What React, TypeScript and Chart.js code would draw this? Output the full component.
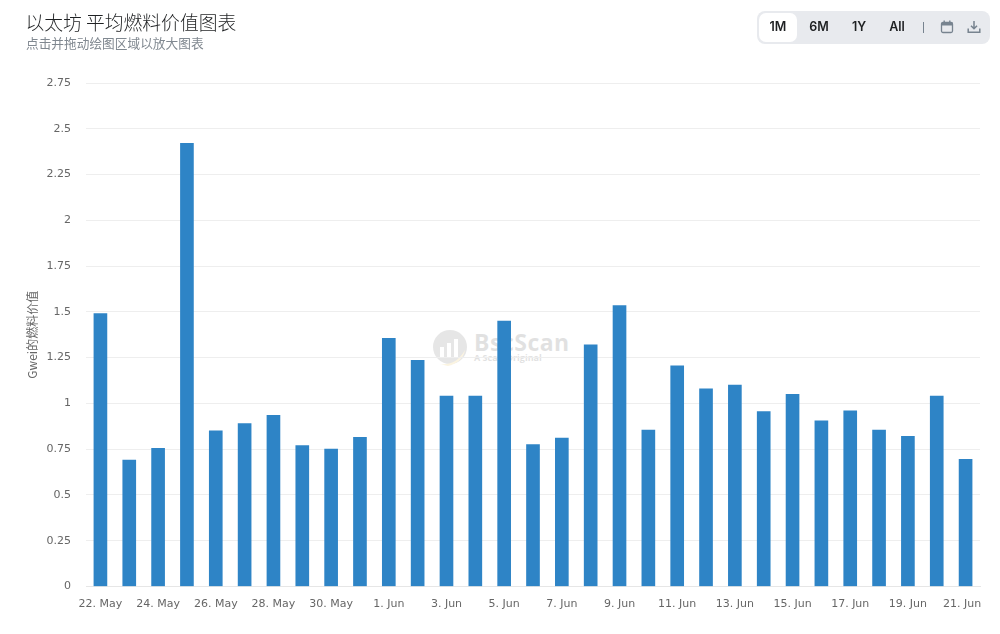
import React, { useEffect, useRef } from "react";
import { Chart, registerables } from "chart.js";

Chart.register(...registerables);

const days = [
  "22. May", "23. May", "24. May", "25. May", "26. May", "27. May", "28. May", "29. May", "30. May", "31. May",
  "1. Jun", "2. Jun", "3. Jun", "4. Jun", "5. Jun", "6. Jun", "7. Jun", "8. Jun", "9. Jun", "10. Jun",
  "11. Jun", "12. Jun", "13. Jun", "14. Jun", "15. Jun", "16. Jun", "17. Jun", "18. Jun", "19. Jun", "20. Jun", "21. Jun",
];
const gasPrice = [
  1.49, 0.69, 0.755, 2.42, 0.85, 0.89, 0.935, 0.77, 0.75, 0.815,
  1.355, 1.235, 1.04, 1.04, 1.45, 0.775, 0.81, 1.32, 1.535, 0.855,
  1.205, 1.08, 1.1, 0.955, 1.05, 0.905, 0.96, 0.855, 0.82, 1.04, 0.695,
];
const rangeButtons = [
  { label: "1M", x: 778 },
  { label: "6M", x: 819 },
  { label: "1Y", x: 859 },
  { label: "All", x: 897 },
];

const CJK = '"Noto Sans CJK SC", "Noto Sans", sans-serif';
const TICK_FONT = '"DejaVu Sans", sans-serif';

const Watermark = () => (
  <div style={{ position: "absolute", left: 432, top: 330, width: 140, height: 40, opacity: 0.14 }}>
    <svg width="36" height="36" viewBox="0 0 36 36" style={{ position: "absolute", left: 0, top: 0 }}>
      <circle cx="18" cy="17" r="17" fill="#555" />
      <rect x="8" y="17" width="4" height="11" fill="#fff" />
      <rect x="15" y="13" width="4" height="15" fill="#fff" />
      <rect x="22" y="9" width="4" height="19" fill="#fff" />
      <path d="M8 34 Q24 36 33 20 Q31 32 16 36 Z" fill="#e8b530" />
    </svg>
    <div style={{ position: "absolute", left: 42, top: 0, fontFamily: '"Open Sans", sans-serif', fontWeight: 700, fontSize: 23, lineHeight: "24px", color: "#333", letterSpacing: 0.5 }}>
      BscScan
    </div>
    <div style={{ position: "absolute", left: 42, top: 22, fontFamily: '"Open Sans", sans-serif', fontWeight: 700, fontSize: 9, lineHeight: "12px", color: "#333", whiteSpace: "nowrap" }}>
      A Scan Original
    </div>
  </div>
);

const App: React.FC = () => {
  const canvasRef = useRef<HTMLCanvasElement | null>(null);

  useEffect(() => {
    if (!canvasRef.current) return;
    const chart = new Chart(canvasRef.current, {
      type: "bar",
      data: {
        labels: days,
        datasets: [
          {
            data: gasPrice,
            backgroundColor: "#2e84c6",
            barThickness: 13,
          },
        ],
      },
      options: {
        animation: false,
        responsive: false,
        layout: { padding: { top: 83, right: 20, left: 25, bottom: 0 } },
        plugins: { legend: { display: false }, tooltip: { enabled: false } },
        scales: {
          x: {
            grid: { display: false },
            border: { color: "#e6e6e6" },
            afterFit: (scale) => {
              scale.height = 47.5;
            },
            ticks: {
              autoSkip: false,
              maxRotation: 0,
              minRotation: 0,
              color: "#666666",
              padding: 3,
              font: { family: TICK_FONT, size: 11 },
              // trailing spaces pull the last label back inside the plot edge
              callback: (_v, i) => {
                if (i === days.length - 1) return days[i] + "  ";
                return i % 2 === 0 ? days[i] : "";
              },
            },
          },
          y: {
            min: 0,
            max: 2.75,
            afterFit: (scale) => {
              scale.width = 61;
            },
            grid: { color: "#eeeeee", drawTicks: false },
            border: { display: false },
            ticks: {
              stepSize: 0.25,
              color: "#666666",
              padding: 15,
              font: { family: TICK_FONT, size: 11 },
              callback: (v) => String(v),
            },
            title: {
              display: true,
              text: "Gwei的燃料价值",
              color: "#666666",
              padding: { top: 0, bottom: 0 },
              font: { family: CJK, size: 12 },
            },
          },
        },
      },
    });
    return () => chart.destroy();
  }, []);

  return (
    <div style={{ position: "absolute", left: 0, top: 0, width: 1000, height: 634, background: "#fff", overflow: "hidden" }}>
      <Watermark />
      <canvas ref={canvasRef} width={1000} height={634} style={{ position: "absolute", left: 0, top: 0, width: 1000, height: 634 }} />
      <div style={{ position: "absolute", left: 25.5, top: 8, fontFamily: CJK, fontSize: 18.8, lineHeight: "28px", fontWeight: 300, color: "#1e2022", whiteSpace: "nowrap" }}>
        以太坊 平均燃料价值图表
      </div>
      <div style={{ position: "absolute", left: 26, top: 34, fontFamily: CJK, fontSize: 12.7, lineHeight: "18px", color: "#808890", whiteSpace: "nowrap" }}>
        点击并拖动绘图区域以放大图表
      </div>
      <div style={{ position: "absolute", left: 757, top: 11, width: 233, height: 33, background: "#e8eaee", borderRadius: 8 }} />
      <div style={{ position: "absolute", left: 759, top: 13, width: 38, height: 29, background: "#fff", borderRadius: 7 }} />
      {rangeButtons.map((b) => (
        <div
          key={b.label}
          style={{ position: "absolute", left: b.x - 20, top: 13, width: 40, height: 28, lineHeight: "28px", textAlign: "center", fontFamily: "Inter, sans-serif", fontWeight: 600, fontSize: 12.5, color: "#1e2022" }}
        >
          {b.label}
        </div>
      ))}
      <div style={{ position: "absolute", left: 923, top: 22, width: 1, height: 11, background: "#77838f" }} />
      <svg width="14" height="14" viewBox="0 0 14 14" style={{ position: "absolute", left: 940, top: 20 }}>
        <rect x="1.5" y="2.5" width="11" height="10" rx="1.5" fill="none" stroke="#77838f" strokeWidth="1.3" />
        <rect x="1.5" y="2.5" width="11" height="3" fill="#77838f" />
        <rect x="3.5" y="0.5" width="1.4" height="3" fill="#77838f" />
        <rect x="9.1" y="0.5" width="1.4" height="3" fill="#77838f" />
      </svg>
      <svg width="14" height="14" viewBox="0 0 14 14" style={{ position: "absolute", left: 967, top: 20 }}>
        <path d="M7 1 V8.5 M4 5.8 L7 8.8 L10 5.8" fill="none" stroke="#77838f" strokeWidth="1.5" />
        <path d="M1.2 8.5 V12.2 H12.8 V8.5" fill="none" stroke="#77838f" strokeWidth="1.5" />
      </svg>
    </div>
  );
};

export default App;
